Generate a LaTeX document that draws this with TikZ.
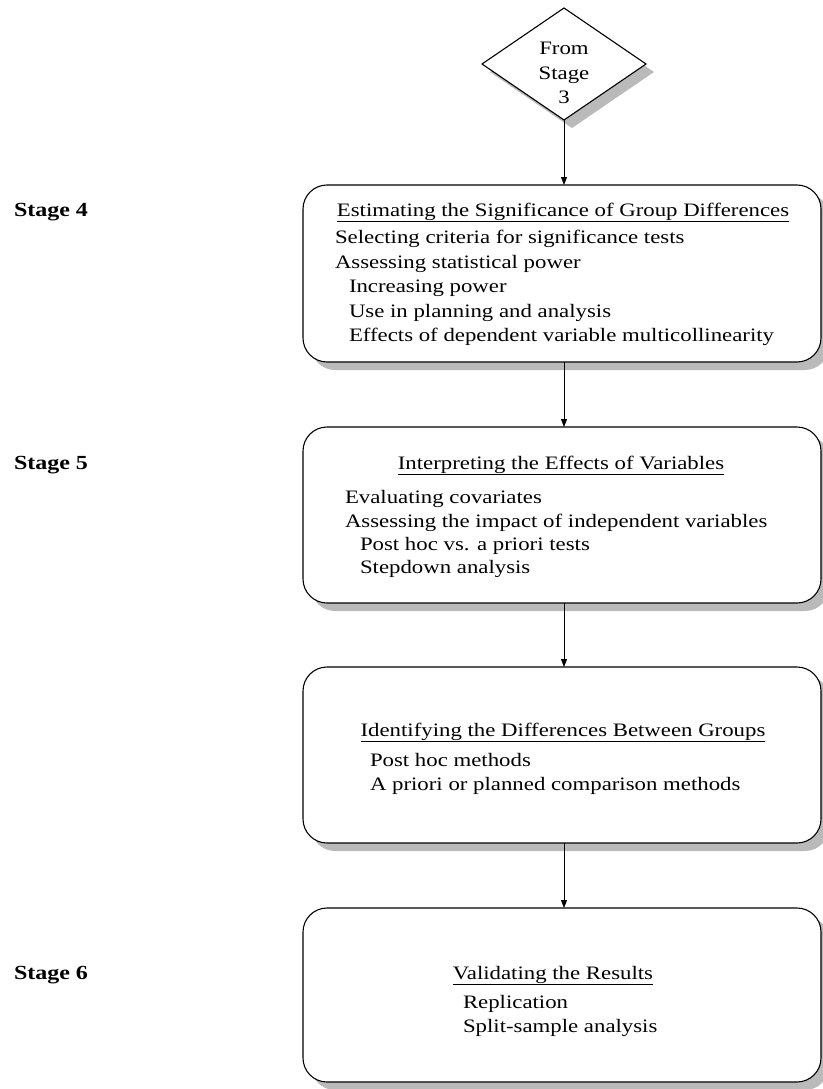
\documentclass[tikz,border=0pt]{standalone}
\usepackage{fontspec}
\setmainfont{Liberation Serif}[FakeStretch=1.2]
\usetikzlibrary{shapes.geometric,shadows,arrows.meta}
\begin{document}
\begin{tikzpicture}[x=1pt,y=-1pt,
  font=\fontsize{19}{24.5}\selectfont,
  every node/.append style={inner sep=0pt, outer sep=0pt},
  shade/.style={drop shadow={shadow xshift=8pt, shadow yshift=-8pt, fill=black!27, opacity=1}},
  stagebox/.style={draw, line width=1.1pt, rounded corners=24pt, fill=white, shade, minimum width=518pt},
  fromdiamond/.style={draw, diamond, line width=1.1pt, fill=white, shade, minimum width=164pt, minimum height=112pt},
  txt/.style={anchor=base west},
  ttl/.style={anchor=base},
  stagelbl/.style={anchor=base west, font=\fontsize{20}{24.5}\selectfont\bfseries},
  arr/.style={-{Triangle[length=8pt,width=6pt]}, line width=0.9pt}
]
\useasboundingbox (0,0) rectangle (822,1089);

% diamond
\node[fromdiamond] (d) at (564,64) {};
\node[align=center] (dt) at (564,73) {From\\Stage\\3};

% boxes
\node[stagebox, minimum height=177pt] (b1) at (562,273.5) {};
\node[stagebox, minimum height=176pt] (b2) at (562,515) {};
\node[stagebox, minimum height=176pt] (b3) at (562,755) {};
\node[stagebox, minimum height=174pt] (b4) at (562,995) {};

% arrows
\draw[arr] (d.south) -- (d.south |- b1.north);
\draw[arr] (d.south |- b1.south) -- (d.south |- b2.north);
\draw[arr] (d.south |- b2.south) -- (d.south |- b3.north);
\draw[arr] (d.south |- b3.south) -- (d.south |- b4.north);

% stage labels
\node[stagelbl] (s4) at (14,216) {Stage 4};
\node[stagelbl] (s5) at (14,469) {Stage 5};
\node[stagelbl] (s6) at (14,979) {Stage 6};

% box 1
\node[ttl] (t1) at (563,216) {\underline{Estimating the Significance of Group Differences}};
\node[txt] (t1a) at (335,243) {Selecting criteria for significance tests};
\node[txt] (t1b) at (335,268) {Assessing statistical power};
\node[txt] (t1c) at (349,292) {Increasing power};
\node[txt] (t1d) at (349,317) {Use in planning and analysis};
\node[txt] (t1e) at (349,341) {Effects of dependent variable multicollinearity};

% box 2
\node[ttl] (t2) at (561,469) {\underline{Interpreting the Effects of Variables}};
\node[txt] (t2a) at (345,503) {Evaluating covariates};
\node[txt] (t2b) at (345,527) {Assessing the impact of independent variables};
\node[txt] (t2c) at (360,550) {Post hoc vs. a priori tests};
\node[txt] (t2d) at (360,573) {Stepdown analysis};

% box 3
\node[ttl] (t3) at (563,736) {\underline{Identifying the Differences Between Groups}};
\node[txt] (t3a) at (370,766) {Post hoc methods};
\node[txt] (t3b) at (370,790) {A priori or planned comparison methods};

% box 4
\node[ttl] (t4) at (553,979) {\underline{Validating the Results}};
\node[txt] (t4a) at (463,1008) {Replication};
\node[txt] (t4b) at (463,1032) {Split-sample analysis};
\end{tikzpicture}
\end{document}
